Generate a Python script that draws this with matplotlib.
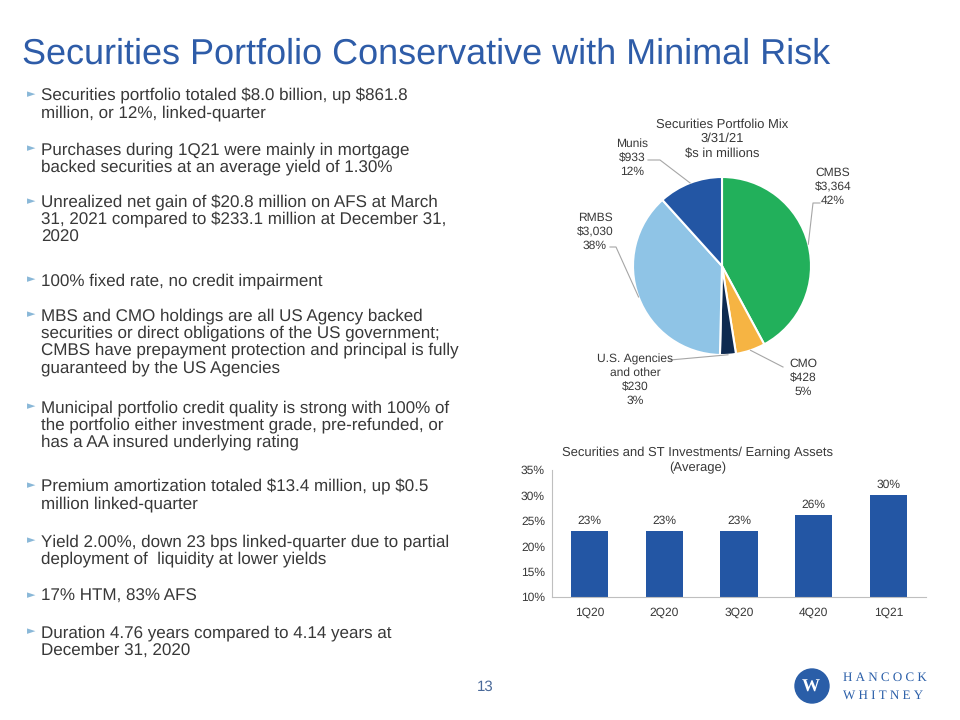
import matplotlib.pyplot as plt
import numpy as np
from matplotlib.patches import Circle

plt.rcParams['font.family'] = ['Liberation Sans', 'DejaVu Sans']
plt.rcParams['text.parse_math'] = False
plt.rcParams['text.hinting'] = 'no_hinting'
plt.rcParams['text.hinting_factor'] = 1

# Data
pie_labels = ['CMBS', 'CMO', 'U.S. Agencies\nand other', 'RMBS', 'Munis']
pie_values = [3364, 428, 230, 3030, 933]
pie_pcts = ['42%', '5%', '3%', '38%', '12%']
pie_colors = ['#22b05b', '#f6b443', '#0e2a50', '#8fc4e6', '#2356a4']

quarters = ['1Q20', '2Q20', '3Q20', '4Q20', '1Q21']
ratio = [23, 23, 23, 26.1, 30]

bullets = [
    ['Securities portfolio totaled $8.0 billion, up $861.8', 'million, or 12%, linked-quarter'],
    ['Purchases during 1Q21 were mainly in mortgage', 'backed securities at an average yield of 1.30%'],
    ['Unrealized net gain of $20.8 million on AFS at March',
     '31, 2021 compared to $233.1 million at December 31,', '2020'],
    ['100% fixed rate, no credit impairment'],
    ['MBS and CMO holdings are all US Agency backed',
     'securities or direct obligations of the US government;',
     'CMBS have prepayment protection and principal is fully',
     'guaranteed by the US Agencies'],
    ['Municipal portfolio credit quality is strong with 100% of',
     'the portfolio either investment grade, pre-refunded, or',
     'has a AA insured underlying rating'],
    ['Premium amortization totaled $13.4 million, up $0.5', 'million linked-quarter'],
    ['Yield 2.00%, down 23 bps linked-quarter due to partial',
     'deployment of  liquidity at lower yields'],
    ['17% HTM, 83% AFS'],
    ['Duration 4.76 years compared to 4.14 years at', 'December 31, 2020'],
]
bullet_y = [94, 148, 201, 279, 314, 406, 485, 540, 595, 631]

W, H = 960, 720
fig = plt.figure(figsize=(9.6, 7.2), dpi=100)

def fx(px):
    return px / W

def fy(py):
    return 1 - py / H

# Title
fig.text(fx(22), fy(54), 'Securities Portfolio Conservative with Minimal Risk',
         fontsize=25.8, color='#2e5ca8', va='center', ha='left')

# Bullets
text_color = '#383838'
for lines, y0 in zip(bullets, bullet_y):
    fig.text(fx(27), fy(y0), '\u25ba', fontsize=8, color='#8ab8d8',
             va='center', ha='left', family='DejaVu Sans')
    for i, line in enumerate(lines):
        fig.text(fx(41), fy(y0 + i * 17.4), line, fontsize=12.2, color=text_color,
                 va='center_baseline', ha='left')

# Pie chart
cx, cy, r = 722, 266, 89
half = 150
ax_pie = fig.add_axes([fx(cx - half), fy(cy + half), (2 * half) / W, (2 * half) / H])
wedges, _ = ax_pie.pie(pie_values, colors=pie_colors, startangle=90, counterclock=False,
                       wedgeprops=dict(edgecolor='white', linewidth=1.5))
lim = half / r
ax_pie.set_xlim(-lim, lim)
ax_pie.set_ylim(-lim, lim)
ax_pie.set_aspect('equal')
ax_pie.axis('off')

def d(px, py):
    return ((px - cx) / r, (cy - py) / r)

ax_pie.text(*d(722, 139), 'Securities Portfolio Mix\n3/31/21\n$s in millions',
            ha='center', va='center', fontsize=9.3, color=text_color, linespacing=1.3)

label_pos = [d(833, 187), d(803, 378), d(635, 380), d(595, 232), d(632, 158)]
anchors = [[(820, 203), (813, 203)], [(783, 367), (783, 367)], [(670, 360), (670, 360)],
           [(610, 247), (616, 247)], [(648, 160), (660, 160)]]
for w, lab, val, pct, pos, anc in zip(wedges, pie_labels, pie_values, pie_pcts, label_pos, anchors):
    ang = np.deg2rad((w.theta1 + w.theta2) / 2)
    ex, ey = np.cos(ang), np.sin(ang)
    ax_pie.text(pos[0], pos[1], f'{lab}\n${val:,}\n{pct}', ha='center', va='center',
                fontsize=8.5, color=text_color, linespacing=1.3)
    pts = [d(*anc[0]), d(*anc[1]), (ex, ey)]
    ax_pie.plot([p[0] for p in pts], [p[1] for p in pts], color='#a6a6a6', lw=0.8)

# Bar chart
ax_bar = fig.add_axes([fx(552), fy(597), (926 - 552) / W, (597 - 470) / H])
x = np.arange(len(quarters))
ax_bar.bar(x, ratio, width=0.5, color='#2356a4', bottom=0)
ax_bar.set_ylim(10, 35)
ax_bar.set_xlim(-0.5, len(quarters) - 0.5)
ax_bar.set_yticks([10, 15, 20, 25, 30, 35])
ax_bar.set_yticklabels([f'{v}%' for v in [10, 15, 20, 25, 30, 35]])
ax_bar.set_xticks(x)
ax_bar.set_xticklabels(quarters)
ax_bar.tick_params(axis='both', length=0, labelsize=8.5, colors=text_color, pad=7)
ax_bar.tick_params(axis='y', pad=5)
for s in ['top', 'right']:
    ax_bar.spines[s].set_visible(False)
for s in ['left', 'bottom']:
    ax_bar.spines[s].set_color('#bfbfbf')
    ax_bar.spines[s].set_linewidth(0.8)
for xi, v in zip(x, ratio):
    ax_bar.text(xi, v + 0.9, f'{round(v)}%', ha='center', va='bottom', fontsize=8.5, color=text_color)
fig.text(fx(698), fy(460), 'Securities and ST Investments/ Earning Assets\n(Average)',
         ha='center', va='center', fontsize=9.1, color=text_color, linespacing=1.3)

# Page number
fig.text(fx(485), fy(687), '13', ha='center', va='center', fontsize=11, color='#4a6a9a')

# Logo
ax_logo = fig.add_axes([0, 0, 1, 1], zorder=-1)
ax_logo.set_xlim(0, W)
ax_logo.set_ylim(H, 0)
ax_logo.axis('off')
ax_logo.add_patch(Circle((812, 686), 17, color='#2a5ea8'))
ax_logo.text(811, 687, 'W', ha='center', va='center', fontsize=13, color='white',
             fontweight='bold', family='Liberation Serif')
ax_logo.text(843, 678, 'H A N C O C K', ha='left', va='center', fontsize=9.5,
             color='#2a5ea8', family='Liberation Serif')
ax_logo.text(843, 696, 'W H I T N E Y', ha='left', va='center', fontsize=9.5,
             color='#2a5ea8', family='Liberation Serif')

fig.savefig('out.png', dpi=100)
